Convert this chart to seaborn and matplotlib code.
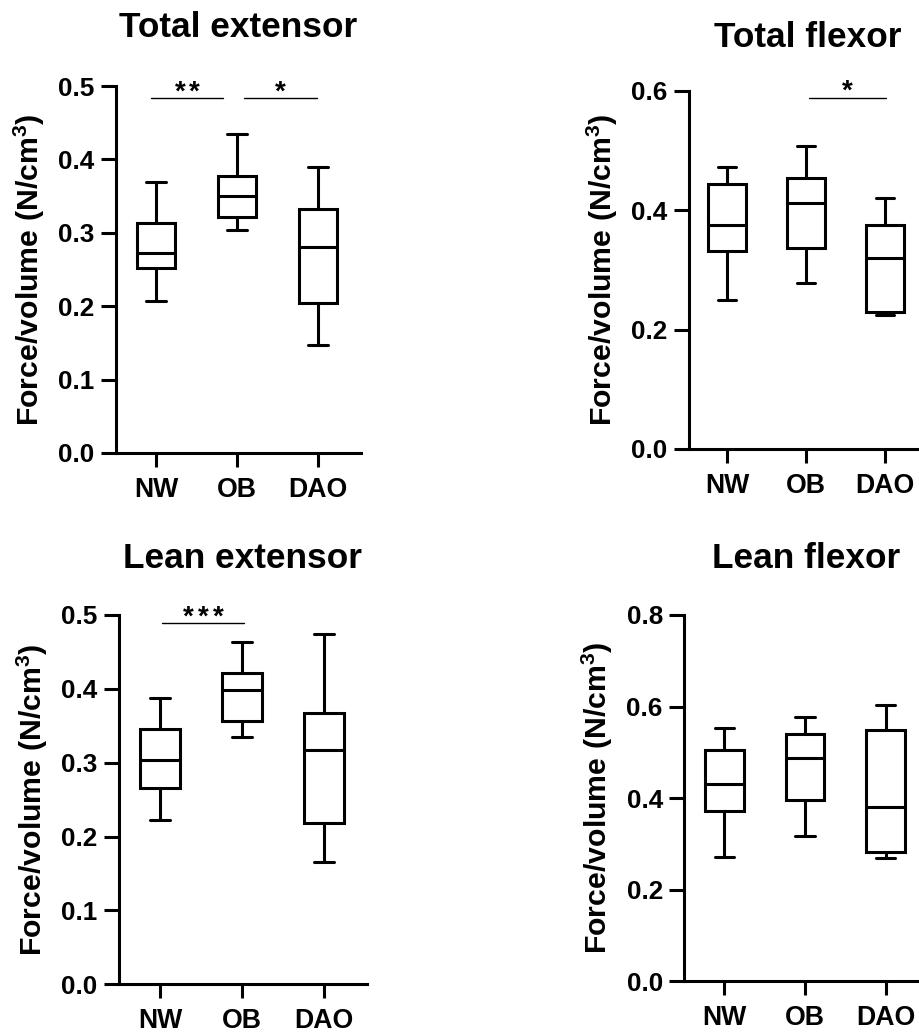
import numpy as np
import pandas as pd
import matplotlib
matplotlib.use("Agg")
import matplotlib.pyplot as plt
import seaborn as sns

# ---------------- data ----------------
groups = ["NW", "OB", "DAO"]

# five-number summaries (min, Q1, median, Q3, max)
total_ext_nw = [0.207, 0.252, 0.272, 0.314, 0.369]
total_ext_ob = [0.304, 0.322, 0.350, 0.377, 0.435]
total_ext_dao = [0.147, 0.205, 0.280, 0.332, 0.390]

total_flex_nw = [0.249, 0.332, 0.375, 0.444, 0.472]
total_flex_ob = [0.278, 0.336, 0.412, 0.455, 0.508]
total_flex_dao = [0.224, 0.229, 0.320, 0.375, 0.421]

lean_ext_nw = [0.223, 0.266, 0.304, 0.346, 0.388]
lean_ext_ob = [0.335, 0.357, 0.398, 0.422, 0.463]
lean_ext_dao = [0.165, 0.218, 0.317, 0.367, 0.474]

lean_flex_nw = [0.272, 0.372, 0.430, 0.504, 0.553]
lean_flex_ob = [0.317, 0.395, 0.488, 0.541, 0.576]
lean_flex_dao = [0.270, 0.282, 0.381, 0.549, 0.604]

titles = ["Total extensor", "Total flexor", "Lean extensor", "Lean flexor"]
ylabel = "Force/volume (N/cm$^{3}$)"

# significance brackets: (x_start, x_end, level, label)
sig_total_ext = [(-0.06, 0.83, 0.484, "**"), (1.09, 1.99, 0.484, "*")]
sig_total_flex = [(1.04, 2.01, 0.589, "*")]
sig_lean_ext = [(0.03, 1.02, 0.489, "***")]
sig_lean_flex = []

yticks_total_ext = [0.0, 0.1, 0.2, 0.3, 0.4, 0.5]
yticks_total_flex = [0.0, 0.2, 0.4, 0.6]
yticks_lean_ext = [0.0, 0.1, 0.2, 0.3, 0.4, 0.5]
yticks_lean_flex = [0.0, 0.2, 0.4, 0.6, 0.8]

# ---------------- style ----------------
sns.set_theme(style="ticks")
plt.rcParams["font.family"] = ["Liberation Sans", "DejaVu Sans"]
plt.rcParams["font.weight"] = "bold"
plt.rcParams["text.color"] = "black"
plt.rcParams["axes.labelcolor"] = "black"
plt.rcParams["mathtext.fontset"] = "custom"
plt.rcParams["mathtext.rm"] = "Liberation Sans:bold"
plt.rcParams["mathtext.it"] = "Liberation Sans:bold"
plt.rcParams["mathtext.bf"] = "Liberation Sans:bold"
plt.rcParams["mathtext.default"] = "rm"

LW = 2.2
STAR_PITCH = 10.6  # points between asterisks
fig = plt.figure(figsize=(9.19, 10.34), dpi=100)

panels = [
    dict(pos=[0.1262, 0.5619, 0.2666, 0.3549], xlim=(-0.494, 2.53),
         vals=[total_ext_nw, total_ext_ob, total_ext_dao], yticks=yticks_total_ext,
         sig=sig_total_ext, title=titles[0], pad=35),
    dict(pos=[0.7494, 0.5658, 0.2596, 0.3462], xlim=(-0.485, 2.535),
         vals=[total_flex_nw, total_flex_ob, total_flex_dao], yticks=yticks_total_flex,
         sig=sig_total_flex, title=titles[1], pad=32),
    dict(pos=[0.1295, 0.0481, 0.2695, 0.3572], xlim=(-0.5, 2.52),
         vals=[lean_ext_nw, lean_ext_ob, lean_ext_dao], yticks=yticks_lean_ext,
         sig=sig_lean_ext, title=titles[2], pad=34),
    dict(pos=[0.7446, 0.0510, 0.2657, 0.3543], xlim=(-0.496, 2.53),
         vals=[lean_flex_nw, lean_flex_ob, lean_flex_dao], yticks=yticks_lean_flex,
         sig=sig_lean_flex, title=titles[3], pad=34),
]

for p in panels:
    ax = fig.add_axes(p["pos"])
    df = pd.DataFrame({
        "group": np.repeat(groups, [len(v) for v in p["vals"]]),
        "value": np.concatenate(p["vals"]),
    })
    sns.boxplot(data=df, x="group", y="value", order=groups, whis=(0, 100),
                width=0.48, color="white", linecolor="black", linewidth=LW,
                showfliers=False, ax=ax)
    ax.set_xlim(*p["xlim"])
    ax.set_ylim(p["yticks"][0], p["yticks"][-1])
    ax.set_yticks(p["yticks"])
    ax.set_yticklabels([f"{t:.1f}" for t in p["yticks"]])
    ax.set_xlabel("")
    ax.set_ylabel(ylabel, fontsize=21.8, fontweight="bold", labelpad=8,
                  color="black")
    ax.set_title(p["title"], fontsize=25.4, fontweight="bold", pad=p["pad"],
                 color="black")
    sns.despine(ax=ax)
    for s in ["left", "bottom"]:
        ax.spines[s].set_linewidth(LW)
        ax.spines[s].set_color("black")
    ax.tick_params(axis="y", length=10.5, width=LW, pad=5, labelsize=18.8,
                   color="black", labelcolor="black")
    ax.tick_params(axis="x", length=10, width=LW, pad=7, labelsize=19.2,
                   color="black", labelcolor="black")
    for lab in ax.get_xticklabels() + ax.get_yticklabels():
        lab.set_fontweight("bold")
    for x0, x1, yv, txt in p["sig"]:
        ax.plot([x0, x1], [yv, yv], color="black", lw=1.0, clip_on=False)
        n = len(txt)
        for i, ch in enumerate(txt):
            dx = (i - (n - 1) / 2) * STAR_PITCH
            ax.annotate(ch, xy=((x0 + x1) / 2, yv), xytext=(dx, -1),
                        textcoords="offset points", ha="center", va="baseline",
                        fontsize=20, fontweight="bold", color="black",
                        annotation_clip=False)

fig.savefig("out.png", dpi=100)
